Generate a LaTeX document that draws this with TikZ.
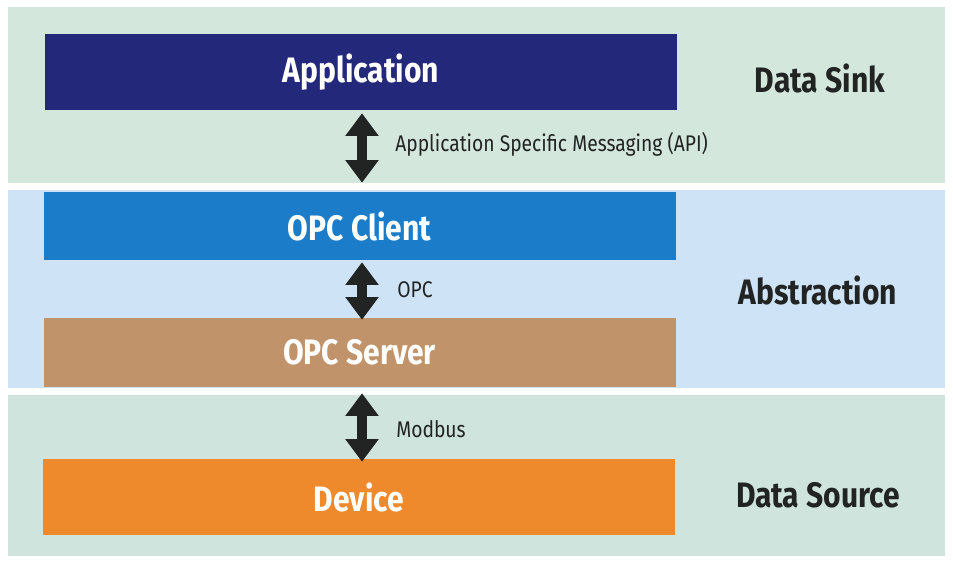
\documentclass[tikz,border=0pt]{standalone}
\usepackage{fontspec}
\setmainfont{Fira Sans}[FakeStretch=0.85]
\usetikzlibrary{arrows.meta}
\definecolor{bandgreen}{RGB}{212,231,221}
\definecolor{bandgreenlow}{RGB}{206,228,221}
\definecolor{bandblue}{RGB}{206,228,246}
\definecolor{appnavy}{RGB}{36,40,122}
\definecolor{clientblue}{RGB}{27,125,201}
\definecolor{servertan}{RGB}{193,147,106}
\definecolor{deviceorange}{RGB}{238,138,44}
\definecolor{inkdark}{RGB}{34,36,36}
\begin{document}
\begin{tikzpicture}[x=0.75pt,y=-0.75pt,
  layerbox/.style={rectangle, inner sep=0pt, minimum width=474pt,
    text=white, font=\bfseries\fontsize{26.5}{30}\selectfont},
  rolelabel/.style={text=inkdark, font=\bfseries\fontsize{26.5}{30}\selectfont},
  linklabel/.style={anchor=west, inner sep=0pt, text=inkdark, font=\fontsize{17}{20}\selectfont},
  fatarrow/.style={draw=inkdark, line width=7.5pt,
    {Triangle[width=24pt,length=17pt]}-{Triangle[width=24pt,length=17pt]}}]
\useasboundingbox (0,0) rectangle (953,562);
\fill[white] (0,0) rectangle (953,562);

% background layers
\fill[bandgreen] (8,7) rectangle (945,183);
\fill[bandblue] (8,190) rectangle (945,388);
\fill[bandgreenlow] (8,395) rectangle (945,556);

% stack of components
\node[layerbox, fill=appnavy, minimum height=57pt] (app) at (361,72) {Application};
\node[layerbox, fill=clientblue, minimum height=51pt] (client) at (359.5,226) {OPC Client};
\node[layerbox, fill=servertan, minimum height=51.75pt] (server) at (359.5,352.5) {OPC Server};
\node[layerbox, fill=deviceorange, minimum height=57pt] (device) at (359,497) {Device};

% links between the components
\draw[fatarrow, shorten <=2.25pt, shorten >=6.75pt] ([xshift=0.75pt]app.south) -- ([xshift=0.75pt]app.south |- client.north);
\draw[fatarrow, shorten <=1.5pt, shorten >=-1.5pt] ([xshift=0.75pt]app.south |- client.south) -- ([xshift=0.75pt]app.south |- server.north);
\draw[fatarrow, shorten <=4.5pt, shorten >=-2.25pt] ([xshift=0.75pt]app.south |- server.south) -- ([xshift=0.75pt]app.south |- device.north);

\node[linklabel] (apilabel) at (395,144) {Application Specific Messaging (API)};
\node[linklabel] (opclabel) at (397,290) {OPC};
\node[linklabel] (modbuslabel) at (396,429) {Modbus};

% role of each layer
\node[rolelabel] (sink) at (820,78) {Data Sink};
\node[rolelabel] (abstraction) at (818,290) {Abstraction};
\node[rolelabel] (source) at (818,495) {Data Source};
\end{tikzpicture}
\end{document}
